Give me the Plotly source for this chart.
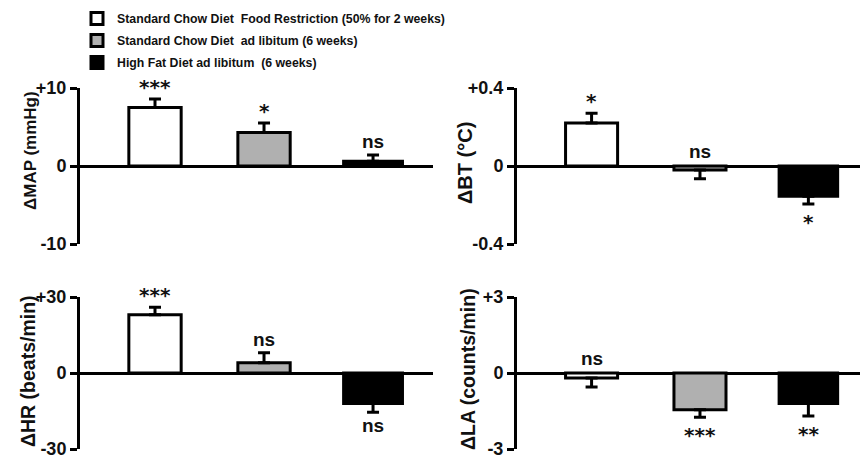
import plotly.graph_objects as go

# ---- data ----
group_names = [
    "Standard Chow Diet\u00a0\u00a0Food Restriction (50% for 2 weeks)",
    "Standard Chow Diet\u00a0\u00a0ad libitum (6 weeks)",
    "High Fat Diet ad libitum\u00a0\u00a0(6 weeks)",
]
categories = ["FR", "SC", "HF"]

map_mean = [7.5, 4.3, 0.6]
map_sem = [1.1, 1.2, 0.8]
map_sig = ["***", "*", "ns"]

bt_mean = [0.22, -0.02, -0.155]
bt_sem = [0.05, 0.045, 0.04]
bt_sig = ["*", "ns", "*"]

hr_mean = [23, 4, -12]
hr_sem = [3, 4, 3.5]
hr_sig = ["***", "ns", "ns"]

la_mean = [-0.2, -1.45, -1.2]
la_sem = [0.35, 0.3, 0.5]
la_sig = ["ns", "***", "**"]

map_ticks = [-10, 0, 10]
map_ticktext = ["-10", "0", "+10"]
bt_ticks = [-0.4, 0, 0.4]
bt_ticktext = ["-0.4", "0", "+0.4"]
hr_ticks = [-30, 0, 30]
hr_ticktext = ["-30", "0", "+30"]
la_ticks = [-3, 0, 3]
la_ticktext = ["-3", "0", "+3"]

titles = ["\u0394MAP (mmHg)", "\u0394BT (\u00b0C)", "\u0394HR (beats/min)", "\u0394LA (counts/min)"]

# ---- styles ----
fills = ["#ffffff", "#b0b0b0", "#000000"]
widths = [0.48, 0.48, 0.54]
INK = "#111111"
FONT = "Liberation Sans, Arial, sans-serif"
STAR_FONT = "DejaVu Sans, Liberation Sans, sans-serif"
# where each significance label sits: above the zero line even for tiny negative bars
label_side = [["up", "up", "up"], ["up", "up", "down"], ["up", "up", "down"], ["up", "down", "down"]]

# page offset (browser body margin) compensation
OFF = 8
W, H = 868 - OFF, 460 - OFF


def fx(px):
    return (px - OFF) / W


def fy(py):
    return 1 - (py - OFF) / H


panels = [
    dict(mean=map_mean, sem=map_sem, sig=map_sig, ticks=map_ticks, tt=map_ticktext, xa="x", ya="y"),
    dict(mean=bt_mean, sem=bt_sem, sig=bt_sig, ticks=bt_ticks, tt=bt_ticktext, xa="x2", ya="y2"),
    dict(mean=hr_mean, sem=hr_sem, sig=hr_sig, ticks=hr_ticks, tt=hr_ticktext, xa="x3", ya="y3"),
    dict(mean=la_mean, sem=la_sem, sig=la_sig, ticks=la_ticks, tt=la_ticktext, xa="x4", ya="y4"),
]

fig = go.Figure()
annotations = []
for pi, p in enumerate(panels):
    for gi in range(3):
        m = p["mean"][gi]
        e = p["sem"][gi]
        fig.add_trace(go.Bar(
            x=[categories[gi]], y=[m],
            width=widths[gi],
            name=group_names[gi],
            legendgroup=f"g{gi}",
            showlegend=(pi == 0),
            marker=dict(color=fills[gi], line=dict(color="#000000", width=3)),
            error_y=dict(type="data", symmetric=False,
                         array=[e if m >= 0 else 0], arrayminus=[e if m < 0 else 0],
                         color="#000000", thickness=3, width=6),
            xaxis=p["xa"], yaxis=p["ya"],
        ))
        label = p["sig"][gi]
        is_ns = label == "ns"
        side = label_side[pi][gi]
        if side == "up":
            yv = m + e if m >= 0 else 0
            anc = "bottom"
            ysh = (1 if is_ns else -2) if m >= 0 else 2
        else:
            yv = m - e
            anc = "top"
            ysh = -1 if is_ns else -4
        annotations.append(dict(
            x=categories[gi], y=yv,
            xref=p["xa"], yref=p["ya"], text=label, showarrow=False,
            yanchor=anc, yshift=ysh,
            font=dict(family=FONT if is_ns else STAR_FONT, size=19 if is_ns else 20,
                      color=INK, weight="bold"),
        ))

top = [fy(244), fy(88)]
bot = [fy(449), fy(297)]
left = [fx(80), fx(433)]
right = [fx(517), 1.0]
xdoms = [left, right, left, right]
ydoms = [top, top, bot, bot]

layout = dict(
    width=W, height=H,
    margin=dict(l=0, r=0, t=0, b=0, autoexpand=False),
    paper_bgcolor="white", plot_bgcolor="white",
    barmode="overlay",
    showlegend=True,
    legend=dict(x=fx(77), y=fy(4), xanchor="left", yanchor="top",
                font=dict(family=FONT, size=12.3, color=INK, weight="bold"),
                bgcolor="rgba(0,0,0,0)", itemwidth=30, tracegroupgap=3,
                traceorder="grouped"),
    font=dict(family=FONT, color=INK),
)

for i in range(4):
    sfx = "" if i == 0 else str(i + 1)
    p = panels[i]
    rng = [p["ticks"][0], p["ticks"][-1]]
    layout["xaxis" + sfx] = dict(
        domain=xdoms[i], anchor="y" + sfx, type="category",
        categoryorder="array", categoryarray=categories,
        range=[-0.688, 2.55], showticklabels=False, ticks="",
        showline=False, showgrid=False, zeroline=False, fixedrange=True,
        automargin=False,
    )
    layout["yaxis" + sfx] = dict(
        domain=ydoms[i], anchor="x" + sfx, range=rng,
        tickmode="array", tickvals=p["ticks"], ticktext=p["tt"],
        ticks="outside", ticklen=7, tickwidth=3, tickcolor="#000000",
        showline=True, linewidth=3, linecolor="#000000",
        showgrid=False, zeroline=True, zerolinewidth=3, zerolinecolor="#000000",
        tickfont=dict(family=FONT, size=18, color=INK, weight="bold"),
        ticklabeloverflow="allow",
        fixedrange=True, automargin=False,
    )
    # inside half of the crossing tick marks
    layout["yaxis" + str(i + 5)] = dict(
        overlaying="y" + sfx, anchor="x" + sfx, range=rng, side="left",
        tickmode="array", tickvals=p["ticks"],
        ticks="inside", ticklen=7, tickwidth=3, tickcolor="#000000",
        showticklabels=False, showline=False, showgrid=False, zeroline=False,
        fixedrange=True, automargin=False,
    )

title_pos = [(30, 151, 17), (465, 163, 20), (28, 371, 19.5), (468, 369, 19.5)]
for t, (px, py, fs) in zip(titles, title_pos):
    annotations.append(dict(
        x=fx(px), y=fy(py), xref="paper", yref="paper",
        text=t, textangle=-90, showarrow=False,
        xanchor="center", yanchor="middle",
        font=dict(family=FONT, size=fs, color=INK, weight="bold"),
    ))

layout["annotations"] = annotations
fig.update_layout(**layout)
fig.write_html("out.html")
